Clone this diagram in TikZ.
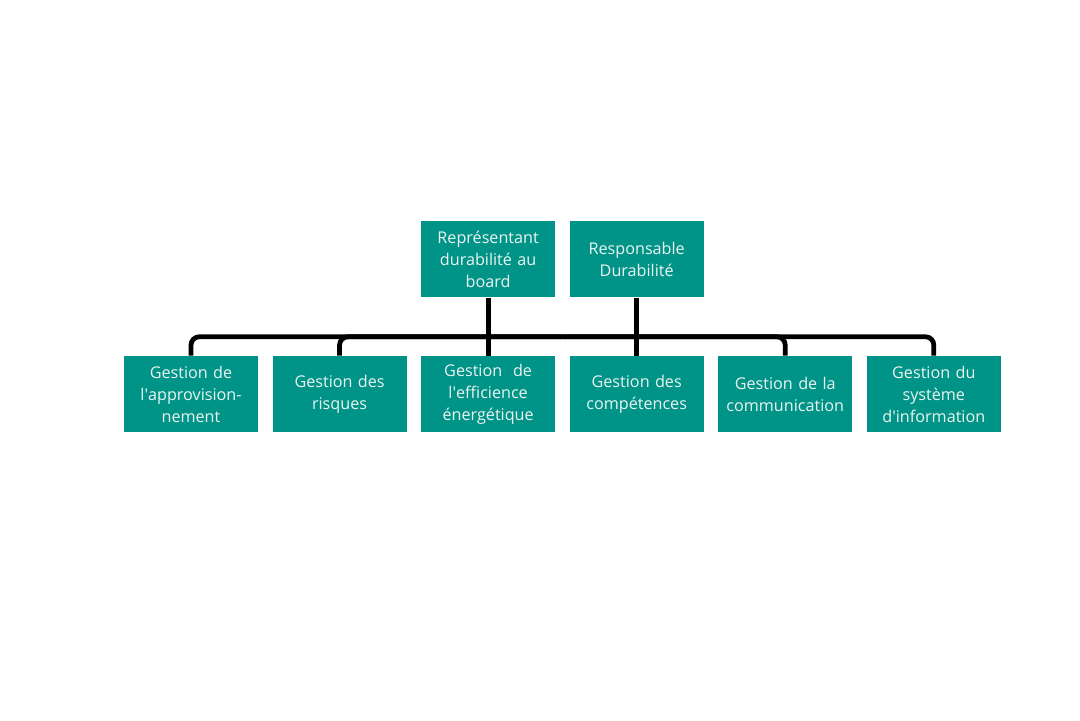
\documentclass[tikz,border=0pt]{standalone}
\usepackage{fontspec}
\setmainfont{Open Sans}
\usepackage{xcolor}
\usepackage{tikz}
\usetikzlibrary{positioning,calc}
\definecolor{teal}{RGB}{0,148,136}
\definecolor{boxtext}{RGB}{236,244,240}

\begin{document}
\begin{tikzpicture}[
  node distance=0.35cm,
  every node/.style={font=\fontsize{11.5}{15.6}\selectfont},
  unit/.style={fill=teal, text=boxtext, minimum width=3.35cm, minimum height=1.9cm, text width=3.2cm, align=center, inner sep=0pt},
  link/.style={line width=3.4pt, rounded corners=6pt},
]
  \useasboundingbox (0,0) rectangle (27,-18);

  % Departments
  \node[unit] (g1) at (4.775,-9.85) {Gestion de\\l\textquotesingle approvision-\\nement};
  \node[unit, right=of g1] (g2) {Gestion des\\risques};
  \node[unit, right=of g2] (g3) {Gestion~ de\\l\textquotesingle efficience\\énergétique};
  \node[unit, right=of g3] (g4) {Gestion des\\compétences};
  \node[unit, right=of g4] (g5) {Gestion de la\\communication};
  \node[unit, right=of g5] (g6) {Gestion du\\système\\d\textquotesingle information};

  % Heads
  \node[unit, above=1.45cm of g3] (r1) {Représentant\\durabilité au\\board};
  \node[unit, above=1.45cm of g4] (r2) {Responsable\\Durabilité};

  % Connectors
  \coordinate (hub) at ($(g3.north)!0.5!(g4.north)+(0,0.475)$);
  \draw[link] (r1.south) -- (g3.north);
  \draw[link] (r2.south) -- (g4.north);
  \foreach \g in {g1,g2,g5,g6}
    \draw[link] (hub) -| (\g.north);

\end{tikzpicture}
\end{document}
